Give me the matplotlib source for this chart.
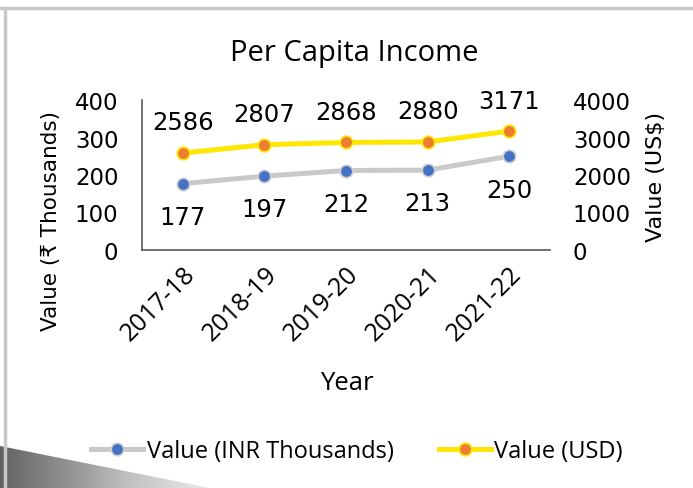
import matplotlib.pyplot as plt
import numpy as np
from matplotlib.patches import Polygon

# Per capita income data
years = ["2017-18", "2018-19", "2019-20", "2020-21", "2021-22"]
inr_thousands = [177, 197, 212, 213, 250]
usd_values = [2586, 2807, 2868, 2880, 3171]

W, H = 693, 489
fig = plt.figure(figsize=(W / 100, H / 100), dpi=100)
fig.patch.set_facecolor('white')
soft = ['Open Sans', 'DejaVu Sans']

# decorative frame and gradient corner
fig.add_artist(plt.Line2D([0, 1], [1 - 9 / H, 1 - 9 / H], transform=fig.transFigure,
                          color='#c8c8c8', lw=2.5))
fig.add_artist(plt.Line2D([5 / W, 5 / W], [0, 1 - 9 / H], transform=fig.transFigure,
                          color='#c8c8c8', lw=2.5))
bg = fig.add_axes([0, 0, 1, 1], zorder=-1)
bg.set_xlim(0, W)
bg.set_ylim(H, 0)
bg.axis('off')
tri = Polygon([[0, 447], [210, 489], [0, 489]], closed=True, facecolor='none', edgecolor='none')
bg.add_patch(tri)
grad = np.linspace(0, 1, 256).reshape(1, -1)
im = bg.imshow(grad, extent=[0, 210, 489, 447], cmap='Greys_r', vmin=-0.6, vmax=1.3,
               aspect='auto')
im.set_clip_path(tri)

ax = fig.add_axes([142 / W, 238 / H, 408 / W, 150 / H])
x = np.arange(len(years))

ax.plot(x, inr_thousands, color='#c9c9c9', lw=3.6, marker='o', markersize=9,
        markerfacecolor='#4472c4', markeredgecolor='#d0d0d0', markeredgewidth=1.2,
        label='Value (INR Thousands)', zorder=3)
ax.set_xlim(-0.5, len(years) - 0.5)
ax.set_ylim(0, 400)
ax.set_yticks([0, 100, 200, 300, 400])
ax.set_xticks(x)
ax.set_xticklabels(years, rotation=45, ha='right', rotation_mode='anchor', fontsize=18,
                   family=soft)
ax.tick_params(axis='y', length=0, pad=17, labelsize=16.5)
ax.tick_params(axis='x', length=0, pad=8)
for s in ['top', 'right']:
    ax.spines[s].set_visible(False)
ax.spines['left'].set_color('#595959')
ax.spines['bottom'].set_color('#595959')
ax.spines['left'].set_linewidth(1.2)
ax.spines['bottom'].set_linewidth(1.2)

ax2 = ax.twinx()
ax2.plot(x, usd_values, color='#ffe600', lw=3.6, marker='o', markersize=9,
         markerfacecolor='#ed7d31', markeredgecolor='#ffe600', markeredgewidth=1.2,
         label='Value (USD)', zorder=3)
ax2.set_ylim(0, 4000)
ax2.set_yticks([0, 1000, 2000, 3000, 4000])
ax2.tick_params(axis='y', length=0, pad=16.5, labelsize=16.5)
for s in ['top', 'right', 'left', 'bottom']:
    ax2.spines[s].set_visible(False)

for xi, v in zip(x, inr_thousands):
    ax.annotate(str(v), (xi, v), xytext=(0, -24), textcoords='offset points',
                ha='center', va='center', fontsize=17.5)
for xi, v in zip(x, usd_values):
    ax2.annotate(str(v), (xi, v), xytext=(0, 22), textcoords='offset points',
                 ha='center', va='center', fontsize=17.5)

fig.text(354 / W, 1 - 53 / H, 'Per Capita Income', ha='center', va='center', fontsize=21,
         family=soft, weight='medium')
fig.text(51 / W, 1 - 221 / H, 'Value (₹ Thousands)', ha='center', va='center',
         rotation=90, fontsize=15.5)
fig.text(656 / W, 1 - 177 / H, 'Value (US$)', ha='center', va='center',
         rotation=90, fontsize=16)
fig.text(347 / W, 1 - 384 / H, 'Year', ha='center', va='center', fontsize=18.5, family=soft)

h1, l1 = ax.get_legend_handles_labels()
h2, l2 = ax2.get_legend_handles_labels()
fig.legend(h1 + h2, l1 + l2, loc='center', bbox_to_anchor=(357 / W, 1 - 452 / H),
           ncol=2, frameon=False, prop={'family': soft, 'size': 17},
           handlelength=2.2, handletextpad=0.15, columnspacing=1.9)

plt.savefig('out.png', dpi=100, facecolor='white')
